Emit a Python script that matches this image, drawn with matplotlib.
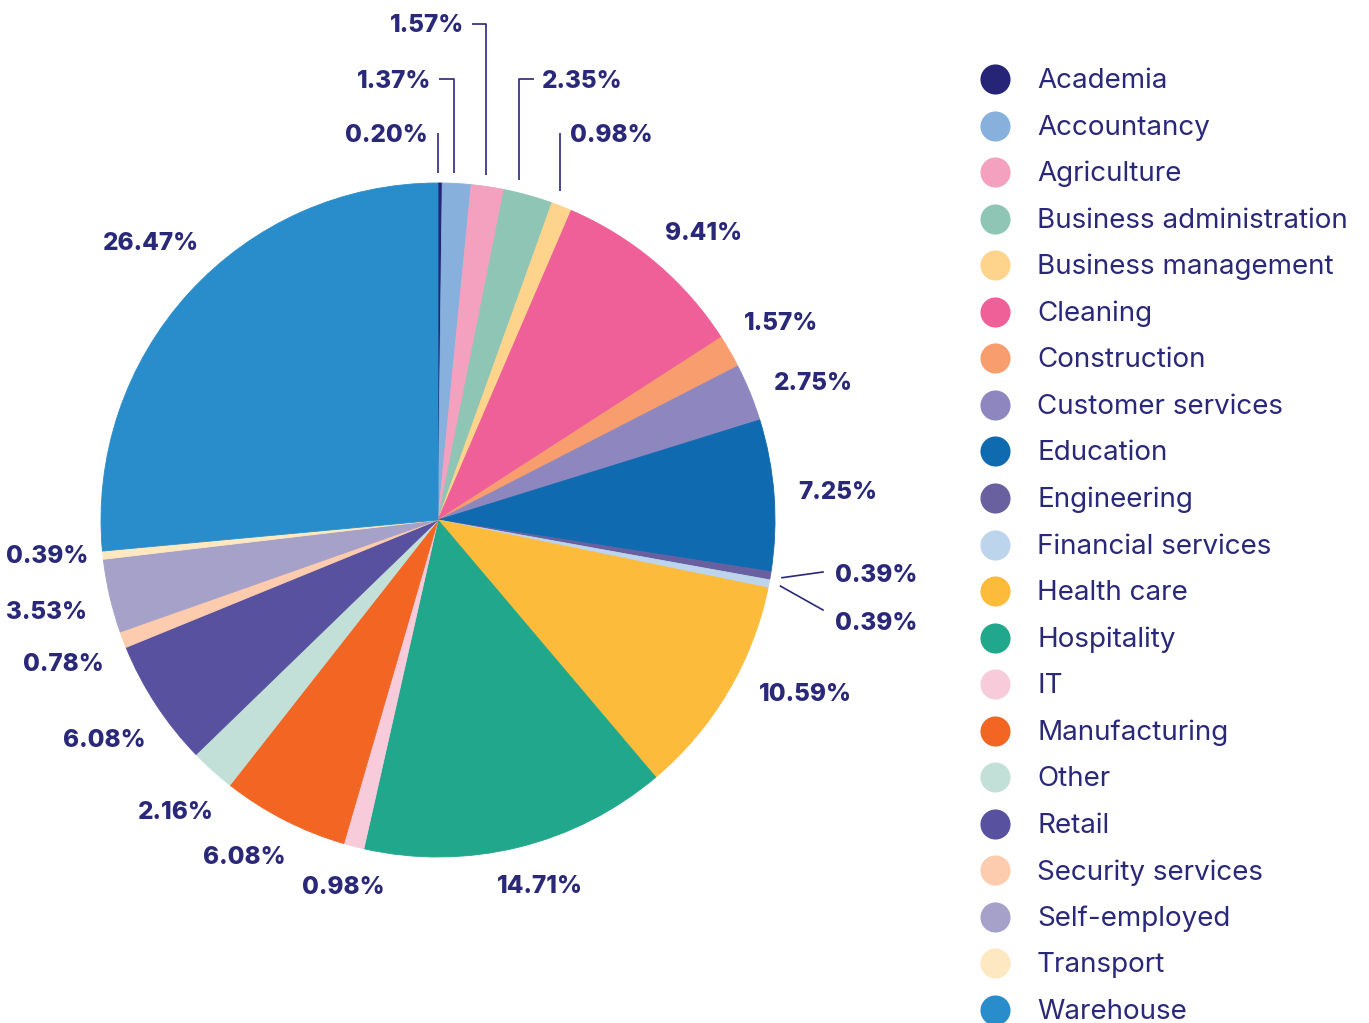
import matplotlib
matplotlib.use("Agg")
import matplotlib.pyplot as plt
import numpy as np

categories = ["Academia", "Accountancy", "Agriculture", "Business administration",
              "Business management", "Cleaning", "Construction", "Customer services",
              "Education", "Engineering", "Financial services", "Health care",
              "Hospitality", "IT", "Manufacturing", "Other", "Retail",
              "Security services", "Self-employed", "Transport", "Warehouse"]
shares = [0.20, 1.37, 1.57, 2.35, 0.98, 9.41, 1.57, 2.75, 7.25, 0.39, 0.39,
          10.59, 14.71, 0.98, 6.08, 2.16, 6.08, 0.78, 3.53, 0.39, 26.47]
colors = ["#262476", "#87b0dc", "#f4a1bf", "#8fc5b5", "#fed38b", "#ef5f98",
          "#f89d6e", "#8e87bf", "#106ab0", "#68609f", "#bcd4ec", "#fdbb3c",
          "#21a78b", "#f8cbdb", "#f26522", "#c3e0d8", "#58519f", "#fdcbad",
          "#a6a1c8", "#fee8c2", "#2a8dcb"]

NAVY = "#2a2878"
FONT = "Inter"
W, H = 1369, 1023
fig = plt.figure(figsize=(W / 100, H / 100), dpi=100)
ax = fig.add_axes([0, 0, 1, 1])

CX, CY, R = 438, H - 520, 337
wedges, _ = ax.pie(shares, colors=colors, startangle=90, counterclock=False,
                   center=(CX, CY), radius=R, wedgeprops=dict(linewidth=0.6))
for w in wedges:
    w.set_edgecolor(w.get_facecolor())
ax.set_xlim(0, W)
ax.set_ylim(0, H)
ax.axis("off")

# leader-line labels at the top: (row level from top, jog length, side, position in slice)
top_leaders = {0: (133, 0, -1, 0.0), 1: (79, 15, -1, 0.42), 2: (24, 14, -1, 0.45),
               3: (79, 15, 1, 0.31), 4: (133, 0, 1, 0.42)}
# leader-line labels at the right side: (line end y from top, text y from top)
side_leaders = {9: (572, 573), 10: (610, 621)}
# small angular / radial nudges of outside labels (degrees, pixels)
label_nudge = {5: -2.4, 7: -2.0, 11: 5.5, 12: 1.8, 14: -2.8, 19: -1.0, 20: -1.8}
radial_nudge = {19: -10}
VSHIFT = -2  # visual centering of digits

lab_kw = dict(fontsize=17.5, fontweight="heavy", color=NAVY, family=FONT)
fig.canvas.draw()
renderer = fig.canvas.get_renderer()

for i, (w, v) in enumerate(zip(wedges, shares)):
    label = f"{v:.2f}%"
    if i in top_leaders:
        level, jog, side, frac = top_leaders[i]
        th = np.deg2rad(w.theta2 - frac * (w.theta2 - w.theta1))
        dx = R * np.cos(th)
        x = CX + dx
        yb = CY + np.sqrt(R ** 2 - dx ** 2) + 10 + 0.04 * abs(dx)
        yt = H - level
        ax.plot([x, x, x + side * jog], [yb, yt, yt], color=NAVY, lw=1.2,
                solid_capstyle="butt")
        gap = 8 if jog else 10
        ax.text(x + side * (jog + gap), yt + VSHIFT, label,
                ha="left" if side > 0 else "right", va="center", **lab_kw)
        continue
    th = np.deg2rad((w.theta1 + w.theta2) / 2)
    c, s = np.cos(th), np.sin(th)
    if i in side_leaders:
        ly, ty = side_leaders[i]
        x0, y0 = CX + R * 1.035 * c, CY + R * 1.035 * s
        x1 = CX + 385
        ax.plot([x0, x1], [y0, H - ly], color=NAVY, lw=1.2)
        ax.text(x1 + 12, H - ty + VSHIFT, label, ha="left", va="center", **lab_kw)
    else:
        th2 = th + np.deg2rad(label_nudge.get(i, 0.0))
        c, s = np.cos(th2), np.sin(th2)
        ar = R * 1.07 + radial_nudge.get(i, 0)
        ax_, ay_ = CX + ar * c, CY + ar * s
        t = ax.text(ax_, ay_, label, ha="center", va="center", **lab_kw)
        bb = t.get_window_extent(renderer)
        off = abs(c) * bb.width / 2 + abs(s) * 7
        t.set_position((ax_ + c * off, ay_ + s * off + VSHIFT))

# legend
for i, (cat, col) in enumerate(zip(categories, colors)):
    y = H - (79 + i * 46.55)
    ax.scatter([995], [y], s=470, color=col, linewidths=0)
    ax.text(1037, y + VSHIFT, cat, ha="left", va="center", fontsize=20,
            color=NAVY, family=FONT)

fig.savefig("out.png", dpi=100)
